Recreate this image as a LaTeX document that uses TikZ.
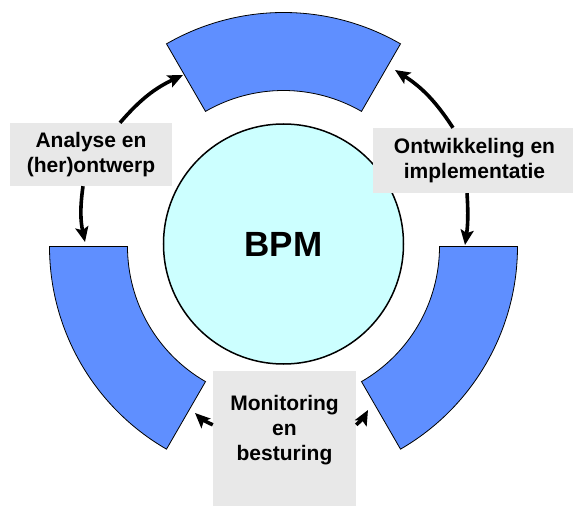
\documentclass[tikz,border=0pt]{standalone}
\usepackage{fontspec}
\setmainfont{Liberation Sans}
\usetikzlibrary{arrows.meta}
\definecolor{ringblue}{HTML}{5F8FFF}
\definecolor{coreblue}{HTML}{CCFFFF}
\definecolor{boxgray}{HTML}{E8E8E8}
\tikzset{
  sector/.style={draw=black, line width=0.8pt, fill=ringblue},
  labelbox/.style={fill=boxgray, align=center, inner sep=0pt,
    font=\fontsize{21}{25}\selectfont\bfseries},
  flow/.style={line width=3.6pt, -{Stealth[length=15pt,width=13pt,inset=3pt]}}
}
\begin{document}
\begin{tikzpicture}[x=1pt,y=1pt]
	\def\outerr{234}
	\def\innerr{156}
	\useasboundingbox (-283.5,-259.5) rectangle (289.5,246.5);
	% ring
	\foreach \a/\b in {60/120,180/240,300/360}
		\draw[sector] (\a:\outerr pt) arc[start angle=\a, end angle=\b, radius=\outerr pt]
			-- (\b:\innerr pt) arc[start angle=\b, end angle=\a, radius=\innerr pt] -- cycle;
	% core
	\node[circle, draw, line width=1.5pt, fill=coreblue, minimum size=240pt, inner sep=0pt,
		font=\fontsize{35}{42}\selectfont\bfseries] (bpm) at (0,2.5) {BPM};
	% labels
	\node[labelbox, minimum width=162pt, minimum height=63pt] (an) at (-192.5,92) {Analyse en\\(her)ontwerp};
	\node[labelbox, minimum width=203pt, minimum height=65pt] (on) at (191,86) {Ontwikkeling en\\implementatie};
	\node[labelbox, text width=143pt, text height=39pt, text depth=100pt, anchor=base] (mon) at (1,-163.5) {Monitoring\\en\\besturing};
	% tips
	\coordinate (tA1) at (-100.5,171.5);
	\coordinate (tA2) at (-198.5,4.5);
	\coordinate (tO1) at (111.5,176.5);
	\coordinate (tO2) at (181.5,1.5);
	\coordinate (tM1) at (-88.5,-166.5);
	\coordinate (tM2) at (84.5,-163.5);
	% arrows
	\draw[flow] ([xshift=29pt]an.north) to[bend left=12] (tA1);
	\draw[flow] ([xshift=-8pt]an.south) to[bend right=10] (tA2);
	\draw[flow] ([xshift=-21.5pt]on.north) to[bend right=12] (tO1);
	\draw[flow] ([xshift=-7.5pt]on.south) to[bend left=6] (tO2);
	\draw[flow] ([yshift=-54pt]mon.north west) to[bend left=10] (tM1);
	\draw[flow] ([yshift=-54pt]mon.north east) to[bend right=10] (tM2);
\end{tikzpicture}
\end{document}
